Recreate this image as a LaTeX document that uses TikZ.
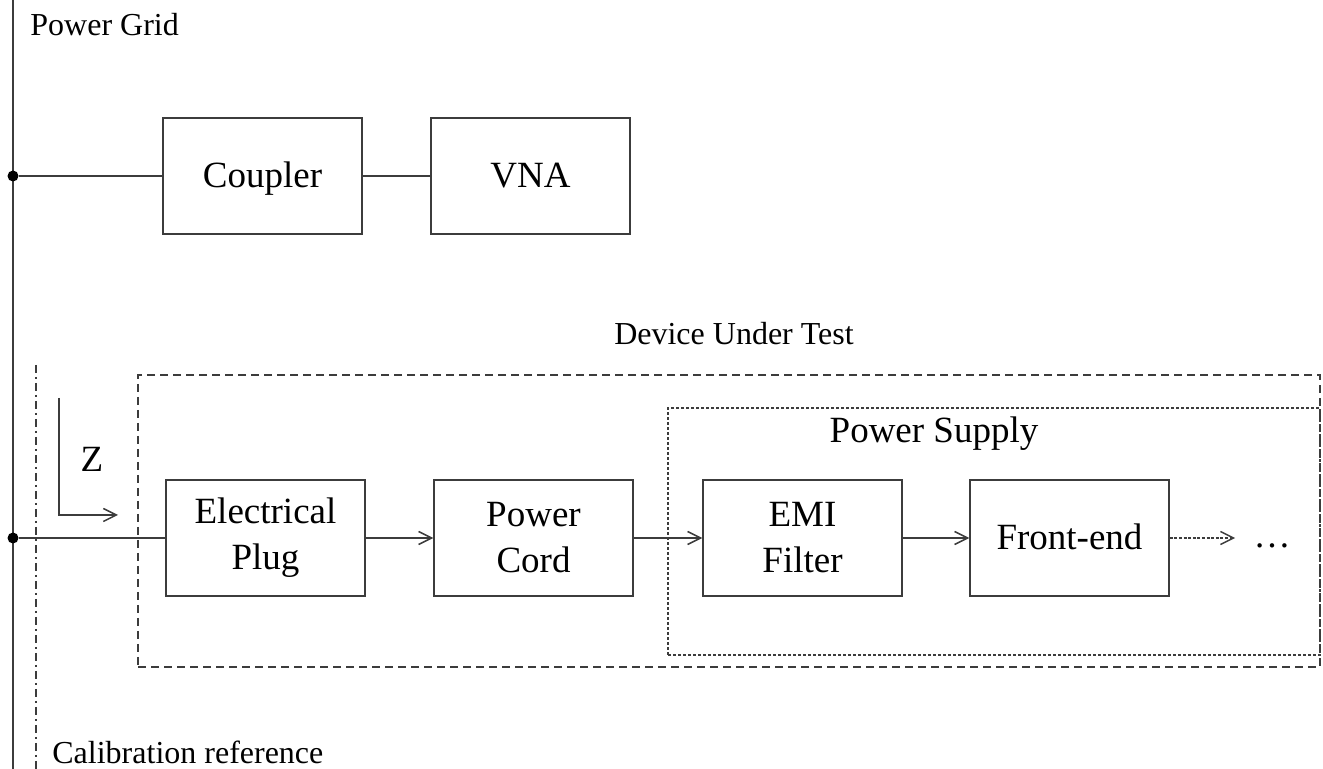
\documentclass[tikz,border=0pt]{standalone}
\usepackage{fontspec}
\setmainfont{Liberation Serif}
\usetikzlibrary{arrows.meta,positioning}
\definecolor{linegray}{RGB}{60,60,60}

\begin{document}
\begin{tikzpicture}[x=0.5pt, y=-0.5pt,
    block/.style={draw=linegray, line width=0.75pt, rectangle, minimum width=99.5pt, minimum height=58pt,
                  align=center, font=\fontsize{18.5}{23}\selectfont, inner sep=0pt},
    oneline/.style={text height=13pt, text depth=1pt},
    label/.style={font=\fontsize{16}{19}\selectfont, inner sep=0pt},
    wire/.style={draw=linegray, line width=0.75pt},
    flow/.style={wire, -{Straight Barb[length=6.5pt,width=6.5pt]}},
    dot/.style={fill=black, circle, inner sep=0pt, minimum size=5.5pt}]
    \useasboundingbox (0,0) rectangle (1323,769);

    % Power grid bus
    \coordinate (gridtop) at (13,0);
    \coordinate (gridbot) at (13,769);
    \draw[wire] (gridtop) -- (gridbot);
    \node[label, anchor=west] (grid) at (30,25) {Power Grid};
    \node[dot] (tap1) at (13,176) {};
    \node[dot] (tap2) at (13,538) {};

    % Measurement branch
    \node[block, oneline] (coupler) at (262.5,176) {Coupler};
    \node[block, oneline] (vna) at (530.5,176) {VNA};
    \draw[wire] (tap1) -- (coupler);
    \draw[wire] (coupler) -- (vna);

    % Calibration reference
    \coordinate (caltop) at (36,365);
    \coordinate (calbot) at (36,769);
    \draw[linegray, line width=0.75pt, dash pattern=on 4pt off 2pt on 1pt off 2pt] (caltop) -- (calbot);
    \node[label, anchor=west] (cal) at (52,752) {Calibration reference};

    % DUT and power supply frames
    \node[draw=linegray, line width=0.75pt, dash pattern=on 4pt off 2.5pt, rectangle,
          minimum width=591pt, minimum height=146pt] (dut) at (729,521) {};
    \node[label] (dutlbl) at (734,334) {Device Under Test};
    \node[draw=linegray, line width=0.75pt, dash pattern=on 1.5pt off 1pt, rectangle,
          minimum width=326pt, minimum height=123.5pt] (psu) at (994,531.5) {};
    \node[label, font=\fontsize{18.5}{23}\selectfont] (psulbl) at (934,434) {Power Supply};

    % Impedance reference arrow
    \coordinate (ztop) at (59,398);
    \coordinate (zcorner) at (59,515);
    \coordinate (zend) at (118,515);
    \draw[flow] (ztop) -- (zcorner) -- (zend);
    \node[label, font=\fontsize{18.5}{23}\selectfont] (zlbl) at (92,459) {Z};

    % Signal chain
    \node[block] (plug) at (265.5,538) {Electrical\\Plug};
    \node[block] (cord) at (533.5,538) {Power\\Cord};
    \node[block] (emi) at (802.5,538) {EMI\\Filter};
    \node[block, oneline] (front) at (1069.5,538) {Front-end};
    \node[label, font=\fontsize{18.5}{23}\selectfont, inner xsep=9pt] (more) at (1272,546) {\ldots};
    \draw[wire] (tap2) -- (plug);
    \draw[flow] (plug) -- (cord);
    \draw[flow] (cord) -- (emi);
    \draw[flow] (emi) -- (front);
    \draw[flow, dash pattern=on 1.5pt off 0.8pt] (front) -- (front.east -| more.west);
\end{tikzpicture}
\end{document}
